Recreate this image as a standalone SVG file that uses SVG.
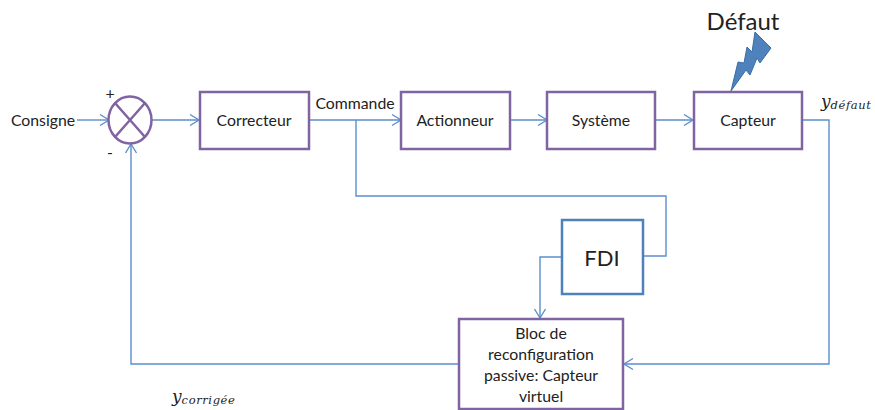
<svg xmlns="http://www.w3.org/2000/svg" width="875" height="410" viewBox="0 0 875 410">
<style>
text{font-family:Lato,"Open Sans",sans-serif;fill:#222;text-anchor:middle}
.t{font-size:15.800px}
.b{fill:#fff;stroke:#8064a2;stroke-width:2.500}
.c{fill:none;stroke:#5b8fcb;stroke-width:1.400}
.m{font-family:"DejaVu Serif","Liberation Serif",serif;font-style:italic;text-anchor:start}
</style>
<defs>
<marker id="a" markerUnits="userSpaceOnUse" markerWidth="12" markerHeight="14" refX="10" refY="7" orient="auto">
<path d="M1 1.500L10 7L1 12.500" fill="none" stroke="#5b8fcb" stroke-width="1.400"/>
</marker>
</defs>
<g id="connectors">
<path class="c" marker-end="url(#a)" d="M77 120H109"/>
<path class="c" marker-end="url(#a)" d="M152 120H199"/>
<path class="c" marker-end="url(#a)" d="M309 120H401"/>
<path class="c" marker-end="url(#a)" d="M510 120H547"/>
<path class="c" marker-end="url(#a)" d="M655 120H693"/>
<path class="c" d="M356 120V196H666V256H644"/>
<path class="c" marker-end="url(#a)" d="M562 257H540V318"/>
<path class="c" marker-end="url(#a)" d="M802 120H829V364H624"/>
<path class="c" marker-end="url(#a)" d="M458 364H131V144"/>
</g>
<g id="sum">
<ellipse cx="130" cy="120" rx="21.500" ry="23.500" fill="#fff" stroke="#8064a2" stroke-width="2.500"/>
<path d="M115 103L145 137M145 103L115 137" stroke="#8064a2" stroke-width="2.500" fill="none"/>
<text class="t" x="110" y="99">+</text>
<text class="t" x="110" y="158">-</text>
</g>
<g id="consigne"><text class="t" x="43" y="126">Consigne</text></g>
<g id="correcteur"><rect class="b" x="200" y="92" width="109" height="57"/><text class="t" x="254" y="126">Correcteur</text></g>
<g id="commande"><text class="t" x="355" y="109">Commande</text></g>
<g id="actionneur"><rect class="b" x="401" y="92" width="109" height="57"/><text class="t" x="455" y="126">Actionneur</text></g>
<g id="systeme"><rect class="b" x="547" y="92" width="108" height="57"/><text class="t" x="601" y="126">Système</text></g>
<g id="defaut">
<text x="743" y="30" style="font-size:24px">Défaut</text>
<path d="M731 91L738 62L744 63L747 47L752 52L755 32L771 48L760 63L757 58L750 75L746 70Z" fill="#4f81bd" stroke="#3a6ea5" stroke-width="1"/>
</g>
<g id="capteur"><rect class="b" x="694" y="92" width="108" height="57"/><text class="t" x="748" y="126">Capteur</text></g>
<g id="ydefaut"><text class="m" x="821" y="107" style="font-size:17px">y<tspan style="font-size:11.500px;letter-spacing:.6px" dy="2">défaut</tspan></text></g>
<g id="fdi"><rect x="562" y="220" width="81" height="74" fill="#fff" stroke="#4f81bd" stroke-width="2.500"/><text x="602" y="266" style="font-size:22px">FDI</text></g>
<g id="bloc"><rect class="b" x="459" y="319" width="164" height="90"/>
<text class="t"><tspan x="541" y="339">Bloc de</tspan><tspan x="541" y="360">reconfiguration</tspan><tspan x="541" y="381">passive: Capteur</tspan><tspan x="541" y="402">virtuel</tspan></text></g>
<g id="ycorrigee"><text class="m" x="172" y="402" style="font-size:17px">y<tspan style="font-size:11.500px;letter-spacing:.6px" dy="2">corrigée</tspan></text></g>
</svg>
